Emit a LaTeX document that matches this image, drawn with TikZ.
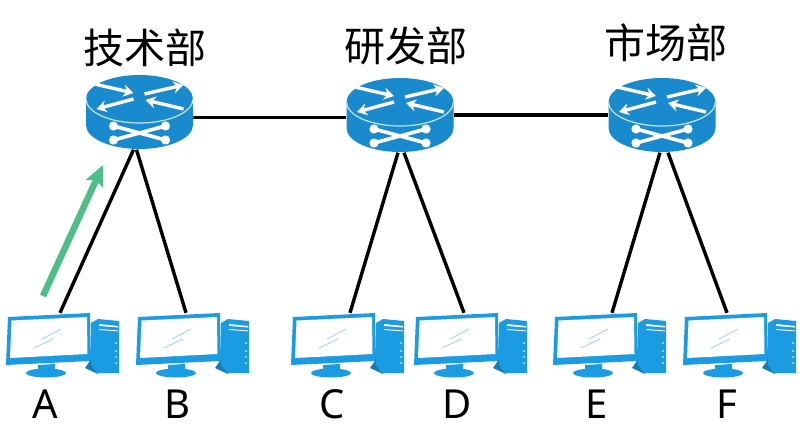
\documentclass[tikz,border=0pt]{standalone}
\usepackage{fontspec}
\setmainfont{Noto Sans}
\newfontfamily\cjk{Noto Sans CJK SC}
\usetikzlibrary{arrows.meta,calc}
\definecolor{routerblue}{HTML}{1A8ACF}
\definecolor{pcblue}{HTML}{1B9BE2}
\definecolor{greenarrow}{HTML}{4FBE87}
\tikzset{
  x=1pt,y=-1pt,
  link/.style={line width=3.4pt,black},
  hub/.style={draw=none,fill=none,inner sep=0pt,minimum width=107pt,minimum height=75pt},
  station/.style={draw=none,fill=none,inner sep=0pt,minimum width=84pt,minimum height=52pt},
  deptlabel/.style={font=\cjk\fontsize{41}{41}\selectfont,inner sep=0pt},
  pclabel/.style={font=\fontsize{40}{40}\selectfont,inner sep=0pt},
  wa/.style={white,line width=3.4pt,-{Stealth[length=10pt,width=12pt]}},
  bone/.style={white,line width=3.6pt},
  pics/router/.style={code={
    \fill[routerblue] (-53.5,-13) -- (-53.5,13) arc[start angle=180,end angle=0,x radius=53.5,y radius=24] -- (53.5,-13) arc[start angle=0,end angle=-180,x radius=53.5,y radius=24] -- cycle;
    \draw[white!75!routerblue,line width=1.2pt] (-53.5,-13) arc[start angle=180,end angle=0,x radius=53.5,y radius=24];
    \draw[wa] (-45,-28) -- (-6,-19);
    \draw[wa] (-6,-13) -- (-43,-3);
    \draw[wa] (5,-18) -- (44,-27);
    \draw[wa] (44,-3) -- (6,-12);
    \draw[bone] (-26,14) -- (26,28);
    \draw[bone] (-26,28) -- (26,14);
    \foreach \p/\q in {-26/14,-26/28,26/14,26/28}{\fill[white] (\p,\q) circle[radius=4.6];}
  }},
  pics/computer/.style={code={
    % origin = top-left of monitor box
    \fill[pcblue] (2,4) -- (84,0) -- (85,48) -- (0,52) -- cycle;
    \fill[white] (5.5,7.5) -- (81,4) -- (81.5,41) -- (4,45) -- cycle;
    \draw[pcblue!45!white,line width=.8pt] (36,26) -- (55,16);
    \draw[pcblue!45!white,line width=.8pt] (28,35) -- (47,26);
    \fill[pcblue] (32,52) -- (49,51) -- (49,58) -- (32,59) -- cycle;
    \fill[pcblue] (40,60) ellipse[x radius=20,y radius=4.5];
    \fill[pcblue!80!black] (86,45) -- (79,55) -- (92,61) -- (92,50) -- cycle;
    \fill[pcblue] (85,10) -- (92,6) -- (113,8) -- (113,60) -- (91,60) -- (85,52) -- cycle;
    \fill[white] (93,11) -- (112,13) -- (112,14.5) -- (93,13) -- cycle;
    \fill[white] (93,16) -- (112,17.5) -- (112,18.3) -- (93,17) -- cycle;
    \foreach \q in {30,38,44,50}{\fill[white] (110,\q) circle[radius=.9];}
  }}
}
\begin{document}
\begin{tikzpicture}
\useasboundingbox (0,0) rectangle (800,441);
% named hubs and stations
\node[hub] (r1) at (139.5,112) {};
\node[hub] (r2) at (400,115) {};
\node[hub] (r3) at (662,115) {};
\node[station] (a) at (48,339) {};
\node[station] (b) at (178,339) {};
\node[station] (c) at (333,339) {};
\node[station] (d) at (456,339) {};
\node[station] (e) at (595,339) {};
\node[station] (f) at (725,339) {};
% connectors
\draw[link] ([yshift=-5.5pt]r1.east) -- ([yshift=-2.5pt]r2.west);
\draw[link] (r2.east) -- (r3.west);
\draw[link] ([xshift=-6pt]r1.south) -- ([xshift=12pt]a.north);
\draw[link] ([xshift=-3pt]r1.south) -- ([xshift=8pt]b.north);
\draw[link] ([xshift=-2pt]r2.south) -- ([xshift=17pt]c.north);
\draw[link] ([xshift=4pt]r2.south) -- ([xshift=8pt]d.north);
\draw[link] ([xshift=-2pt]r3.south) -- ([xshift=17pt]e.north);
\draw[link] ([xshift=6pt]r3.south) -- ([xshift=2pt]f.north);
% devices
\pic at (r1) {router};
\pic at (r2) {router};
\pic at (r3) {router};
\pic at ([xshift=-42pt,yshift=26pt]a.center) {computer};
\pic at ([xshift=-42pt,yshift=26pt]b.center) {computer};
\pic at ([xshift=-42pt,yshift=26pt]c.center) {computer};
\pic at ([xshift=-42pt,yshift=26pt]d.center) {computer};
\pic at ([xshift=-42pt,yshift=26pt]e.center) {computer};
\pic at ([xshift=-42pt,yshift=26pt]f.center) {computer};
% green arrow
\coordinate (gs) at (43,296);
\coordinate (ge) at (103,165);
\draw[greenarrow,line width=6.5pt,-{Stealth[length=20pt,width=18pt,inset=3pt]}] (gs) -- (ge);
% labels
\node[deptlabel] (t1) at (145,48) {技术部};
\node[deptlabel] (t2) at (406,46) {研发部};
\node[deptlabel] (t3) at (666,43) {市场部};
\node[pclabel] (la) at (45,404) {A};
\node[pclabel] (lb) at (177,404) {B};
\node[pclabel] (lc) at (332,404) {C};
\node[pclabel] (ld) at (457,404) {D};
\node[pclabel] (le) at (597,404) {E};
\node[pclabel] (lf) at (727,404) {F};
\end{tikzpicture}
\end{document}
